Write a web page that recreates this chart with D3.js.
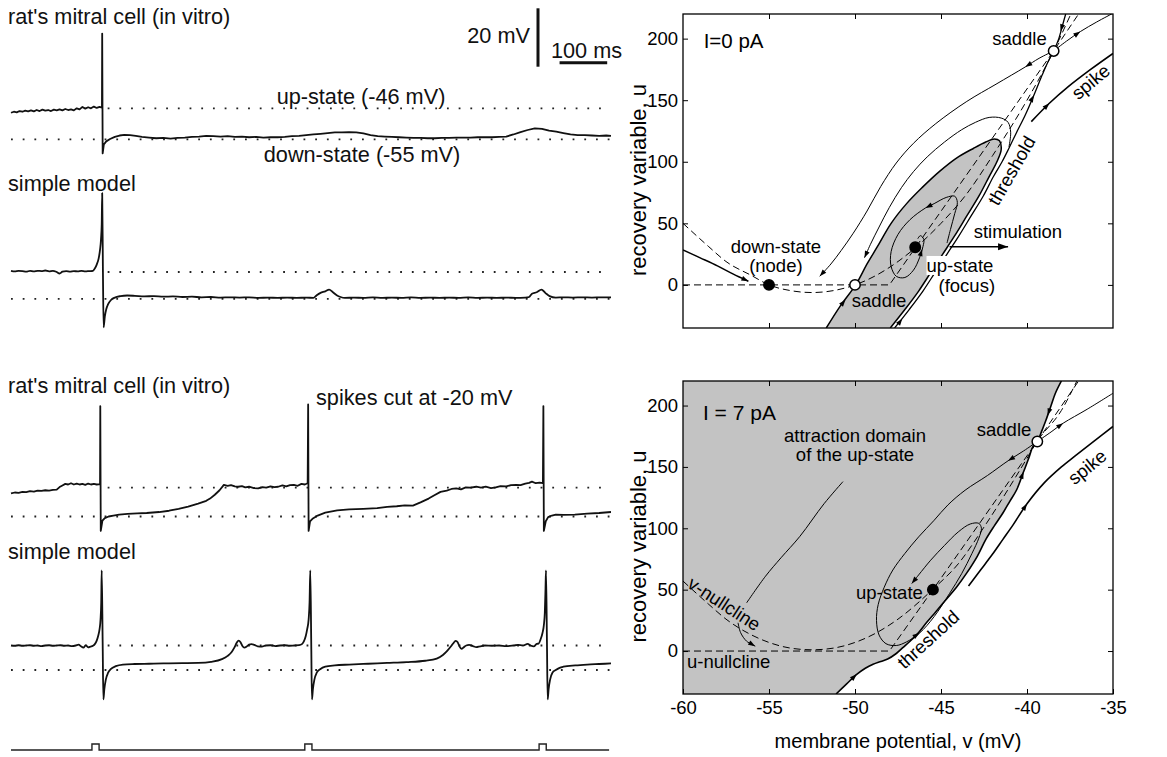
<!DOCTYPE html>
<html><head><meta charset="utf-8">
<script src="https://cdn.jsdelivr.net/npm/d3@7"></script>
<style>
body{margin:0;background:#fff;}
svg{display:block;font-family:"Liberation Sans",Arial,Helvetica,sans-serif;}
</style></head><body>
<svg id="fig" width="1167" height="757"></svg>
<script>
// ---------------- LEFT PANEL DATA (time in ms, membrane potential in mV) ----------------
const upState = -46, downState = -55;
const traceA_invitro = [[0,-47.3],[6,-47.0],[12,-47.2],[18,-46.8],[24,-47.0],[30,-46.7],[36,-46.9],[42,-46.6],[48,-46.9],[54,-46.5],[60,-46.8],[66,-46.4],[72,-46.7],[78,-46.5],[84,-46.8],[90,-46.4],[96,-46.6],[102,-46.3],[108,-46.6],[114,-46.2],[120,-46.5],[126,-46.3],[132,-46.6],[138,-46.0],[144,-46.3],[150,-45.6],[156,-46.1],[162,-45.7],[168,-46.0],[174,-45.5],[180,-45.9],[186,-45.6],[191,-45.8],[191.5,-24.3],[192.5,-59.1],
[195,-56.5],[200,-55.6],[208,-54.9],[218,-54.3],[228,-53.9],[238,-53.7],[250,-53.8],[262,-54.0],[275,-54.3],[290,-54.5],[305,-54.7],[320,-54.6],[335,-54.8],[350,-54.6],[365,-54.5],[380,-54.3],[395,-54.2],[410,-54.0],[425,-54.1],[440,-54.2],[455,-54.1],[470,-54.3],[485,-54.2],[500,-54.4],[515,-54.3],[530,-54.5],[545,-54.4],[560,-54.4],[575,-54.3],[590,-54.1],[605,-54.0],[620,-53.8],[635,-53.6],[650,-53.4],[665,-53.2],[680,-53.0],[695,-53.0],[710,-52.9],[725,-53.0],[740,-53.3],[755,-53.8],[770,-54.1],[785,-54.2],[800,-54.3],[815,-54.4],[830,-54.5],[845,-54.6],[860,-54.6],[875,-54.7],[890,-54.7],[905,-54.6],[920,-54.6],[935,-54.5],[950,-54.5],[965,-54.5],[980,-54.4],[995,-54.4],[1010,-54.4],[1025,-54.3],[1040,-54.2],[1055,-53.6],[1070,-52.9],[1085,-52.3],[1100,-51.8],[1115,-52.0],[1130,-52.5],[1145,-52.8],[1160,-53.2],[1175,-53.6],[1190,-53.8],[1205,-53.8],[1220,-53.9],[1235,-54.0],[1250,-53.9],[1260,-54.0]];

const traceB_model = [[0,-45.6],[8,-45.8],[16,-45.6],[24,-45.7],[32,-45.9],[40,-45.6],[48,-45.8],[56,-45.6],[64,-45.7],[72,-45.5],[80,-45.8],[88,-45.6],[96,-46.0],[102,-46.5],[108,-45.9],[116,-45.7],[124,-45.9],[132,-45.7],[140,-45.8],[148,-45.6],[156,-45.8],[164,-45.7],[172,-45.6],[176,-44.8],[180,-43.5],[184,-41.5],[187,-38.5],[189,-35],[190.5,-30],[191.5,-19.5],[193,-45],[194.5,-64.6],[197,-61],[200,-58.5],[204,-56.8],[210,-55.4],[218,-54.6],[230,-54.1],[244,-53.9],[260,-54.0],[280,-54.2],[300,-54.1],[320,-54.3],[340,-54.2],[360,-54.4],[380,-54.3],[400,-54.5],[420,-54.4],[440,-54.6],[460,-54.5],[480,-54.6],[500,-54.5],[520,-54.7],[540,-54.6],[560,-54.7],[580,-54.6],[600,-54.7],[620,-54.6],[635,-54.7],[642,-53.8],[650,-53.0],[660,-52.5],[668,-51.9],[676,-52.8],[684,-53.8],[692,-54.4],[701,-54.7],[720,-54.6],[740,-54.7],[760,-54.5],[780,-54.7],[800,-54.6],[820,-54.7],[840,-54.5],[860,-54.7],[880,-54.6],[900,-54.7],[920,-54.6],[940,-54.7],[960,-54.5],[980,-54.7],[1000,-54.6],[1020,-54.7],[1040,-54.6],[1060,-54.7],[1080,-54.6],[1088,-54.4],[1094,-53.3],[1104,-52.8],[1114,-51.9],[1122,-53.0],[1131,-54.1],[1144,-54.6],[1160,-54.5],[1180,-54.6],[1200,-54.5],[1220,-54.6],[1240,-54.5],[1260,-54.5]];

const traceC_invitro = [[0,-47.8],[8,-47.5],[16,-47.6],[24,-47.3],[32,-47.4],[40,-47.1],[48,-47.2],[56,-46.9],[64,-47.0],[72,-46.8],[80,-46.9],[88,-46.7],[96,-46.6],[102,-45.8],[108,-45.3],[114,-44.8],[120,-45.0],[126,-44.6],[132,-45.0],[138,-44.7],[144,-45.0],[150,-44.8],[156,-45.1],[162,-44.7],[168,-45.0],[174,-44.8],[180,-45.0],[187,-44.9],[187.5,-20.5],[188.5,-59.5],
[192,-56.3],[197,-55.5],[205,-55.0],[215,-54.7],[227,-54.4],[245,-54.2],[265,-54.0],[285,-53.9],[311,-53.6],[332,-53.2],[352,-52.6],[372,-51.9],[393,-51.0],[410,-50.1],[418,-49.4],[428,-48.2],[438,-46.8],[447,-45.1],[455,-45.4],[462,-45.2],[470,-45.6],[477,-45.7],[485,-45.5],[492,-45.9],[500,-45.7],[510,-46.1],[519,-46.2],[528,-45.8],[536,-46.0],[545,-45.6],[553,-45.8],[561,-45.7],[570,-45.3],[578,-45.6],[586,-45.2],[594,-45.1],[602,-45.4],[610,-44.8],[617,-45.0],[623,-44.6],[624,-20],[625,-59.5],
[628,-56.5],[634,-55.6],[644,-54.7],[660,-53.8],[685,-53.1],[710,-52.8],[740,-52.6],[769,-52.4],[790,-52.0],[810,-51.8],[827,-51.5],[844,-51.6],[860,-50.6],[877,-49.4],[890,-48.3],[902,-47.3],[915,-46.9],[925,-46.4],[935,-46.2],[945,-46.5],[955,-45.9],[965,-46.0],[977,-45.7],[987,-46.0],[997,-45.7],[1008,-46.1],[1018,-45.9],[1028,-45.5],[1040,-45.6],[1050,-45.2],[1061,-45.1],[1070,-45.2],[1080,-44.7],[1088,-44.5],[1094,-44.1],[1102,-44.6],[1110,-44.4],[1117,-44.6],[1118,-20.5],[1119,-59.5],
[1123,-56.5],[1128,-55.2],[1136,-54.7],[1144,-54.4],[1160,-54.5],[1184,-54.4],[1210,-54.1],[1235,-53.9],[1260,-53.6]];

const traceD_model = [[0,-46.0],[8,-46.1],[16,-45.9],[24,-46.1],[32,-46.0],[40,-45.9],[48,-46.1],[56,-46.0],[64,-46.2],[72,-46.0],[80,-45.9],[88,-46.1],[96,-46.0],[104,-45.9],[112,-46.1],[120,-46.0],[128,-46.2],[136,-46.0],[142,-45.7],[147,-46.3],[152,-46.8],[157,-45.9],[162,-46.7],[167,-46.4],[172,-46.1],[176,-45.5],[180,-44.2],[183,-42.5],[186,-40.0],[188,-36.5],[189.5,-30],[190.5,-18.4],[192.5,-45],[194,-65.8],[196,-62],[199,-58.6],[204,-56.0],[210,-54.6],[220,-53.6],[235,-53.0],[260,-52.8],[290,-52.7],[320,-52.6],[360,-52.5],[393,-52.4],[420,-52.0],[443,-51.0],[455,-49.8],[463,-48.5],[469,-46.8],[474,-45.0],[478,-44.2],[482,-44.8],[486,-46.2],[490,-46.8],[495,-46.4],[500,-45.7],[505,-45.5],[511,-45.8],[518,-46.3],[527,-46.4],[535,-46.0],[545,-45.9],[555,-46.2],[565,-46.0],[575,-45.9],[585,-46.1],[595,-46.0],[605,-45.9],[611,-45.5],[615,-44.5],[619,-42.5],[622,-40],[625,-36.5],[627,-30],[628.5,-18.4],[630.5,-45],[632,-65.8],[634,-62],[637,-58.6],[642,-56.0],[650,-54.6],[660,-53.8],[680,-53.3],[710,-53.0],[750,-52.7],[790,-52.4],[830,-52.1],[870,-51.6],[894,-50.8],[907,-49.5],[916,-48.0],[924,-46.3],[930,-44.9],[934,-44.3],[938,-44.8],[942,-46.4],[946,-47.2],[951,-46.6],[956,-46.0],[962,-45.8],[970,-46.2],[977,-46.6],[985,-46.3],[995,-46.0],[1010,-46.1],[1025,-46.0],[1040,-46.2],[1055,-46.0],[1065,-45.8],[1075,-46.0],[1085,-45.4],[1091,-46.0],[1098,-46.3],[1104,-45.4],[1108,-45.3],[1112,-43.8],[1116,-41.5],[1119,-38.5],[1121,-34],[1122.5,-25],[1123.5,-18.4],[1125.5,-45],[1127,-65.8],[1129,-62],[1132,-58.6],[1137,-56.0],[1144,-55.0],[1152,-54.2],[1160,-53.8],[1185,-53.3],[1210,-53.0],[1235,-52.8],[1260,-52.6]];

const stimulusPulses = [[170,185],[617,632],[1109,1124]];
const scaleBarMV = 20, scaleBarMS = 100;

// ---------------- PHASE PLANE DATA (v in mV, u) ----------------
const vTicks = [-60,-55,-50,-45,-40,-35];
const uTicks = [0,50,100,150,200];
// I = 0 pA
const p0_vNullcline = [[-60,50],[-58.5,31],[-57.5,19],[-56,7.5],[-55,0],[-53.8,-4.5],[-52.5,-6.2],[-51.2,-4.5],[-50,0],[-48.8,7.5],[-47.5,19],[-46.5,30],[-45,50],[-43.5,74],[-42,105],[-40,150],[-38.45,190],[-37.45,220]];
const p0_uNullcline = [[-60,0],[-48,0],[-46.5,30],[-38.45,190],[-37,220]];
const p0_domain = [[-51.67,-35],[-50.85,-17],[-49.96,0],[-49.3,17],[-48.7,31],[-47.9,50],[-47.0,66],[-46.1,79],[-45.1,92],[-44.1,103],[-43.1,111],[-42.4,116],[-41.9,118.5],[-41.6,117],[-41.5,110],[-41.75,100],[-42.2,88],[-42.8,72],[-43.5,56],[-44.2,40],[-44.9,25],[-45.6,10],[-46.3,-5],[-47.1,-20],[-47.95,-35]];
const p0_threshold = [[-47.7,-35],[-46.85,-20],[-46.05,-5],[-45.35,10],[-44.65,25],[-43.95,40],[-43.25,56],[-42.55,72],[-41.95,88],[-41.45,100],[-41.05,111],[-40.6,124],[-40.1,138],[-39.6,154],[-39.1,171],[-38.75,182],[-38.45,190],[-38.15,200],[-37.95,210],[-37.75,220]];
const p0_saddleLeft = [[-38.45,190],[-39.3,184],[-40.1,177],[-41.8,163],[-43.5,149],[-45.3,131],[-46.6,115],[-47.6,99],[-48.5,80],[-49.3,60],[-50.1,42],[-50.8,28],[-51.4,17],[-52.05,7]];
const p0_saddleRight = [[-38.45,190],[-37.7,198],[-36.9,205.7],[-35.95,213.5],[-35,220.6]];
const p0_loop = [[-41.05,112],[-40.95,124],[-41.1,132],[-41.5,135.5],[-42.2,136],[-43.0,132],[-43.8,126],[-44.8,116],[-45.8,104],[-46.6,92],[-47.3,79],[-48.0,63],[-48.6,47],[-49.1,33],[-49.45,22]];
const p0_spiral = [[-44.65,34],[-44.45,45],[-44.2,58],[-44.05,67],[-44.2,72],[-44.7,71],[-45.4,66],[-45.9,62.5],[-46.8,53],[-47.5,41],[-47.9,27],[-47.9,15],[-47.6,7],[-47.1,6],[-46.6,12],[-46.25,22],[-46.05,31],[-46.0,37],[-46.2,40],[-46.35,37.5]];
const p0_toNode = [[-60,28.4],[-59,22],[-58,15.5],[-57.1,9],[-56.2,3]];
const p0_spike = [[-39.75,132.6],[-38.7,147.5],[-37.6,161],[-36.3,175],[-35,188]];
const p0_stimulation = [[-44.5,31],[-41.1,31]];
const p0_stable = [[-55,0],[-46.5,30.6]];
const p0_saddles = [[-50,0],[-38.45,190]];
const p0_arrows = [[-39.3,184,-40.1,177],[-51.4,17,-52.05,7],[-37.7,198,-36.9,205.7],[-37.85,215,-38.05,206],[-39.9,146,-39.6,154],[-47.55,-33,-47.25,-27.5],[-50.85,-17,-50.55,-12],[-49.1,33,-49.45,22],[-45.4,66,-45.9,62.5],[-46.25,22,-46.1,29],[-57.1,9,-56.2,3],[-39.2,140.6,-38.7,147.5]];

// I = 7 pA
const p7_vNullcline = [[-60,57],[-58.5,38],[-57.5,26],[-56,13],[-55,7],[-53.8,2.5],[-52.5,1],[-51.2,2.5],[-50,7],[-48.8,14.5],[-47.5,26],[-45.5,50],[-44,71],[-42.5,101],[-40,157],[-39.4,171],[-38,196],[-37.1,220]];
const p7_uNullcline = [[-60,0],[-48,0],[-45.47,50],[-39.4,171],[-37,220]];
const p7_threshold = [[-51.1,-35],[-50.5,-27],[-49.9,-19],[-49.4,-14],[-48.95,-10.8],[-48.5,-8.5],[-48.1,-6.5],[-47.6,-2],[-47.2,3],[-46.8,8],[-46.3,15],[-45.85,23],[-45.3,32],[-44.7,42],[-44.1,52],[-43.5,63.7],[-42.9,77],[-42.4,90.8],[-41.9,102],[-41.4,112.5],[-41.0,122],[-40.6,131.4],[-40.2,146],[-39.9,157],[-39.65,166.7],[-39.4,170.7],[-39.15,179],[-38.9,188],[-38.6,200],[-38.35,210],[-38.0,220]];
const p7_saddleLeft = [[-39.4,170.7],[-40.2,163],[-41.1,155],[-42.3,143],[-43.6,131],[-44.6,119],[-45.4,106.5],[-46.3,93],[-47.1,79.5],[-47.8,66],[-48.3,52],[-48.65,38],[-48.75,25],[-48.6,13],[-48.2,6],[-47.6,4.5],[-47.0,7.5],[-46.25,14.6],[-45.4,28],[-44.5,47],[-43.8,63],[-43.2,79.5],[-42.8,92],[-42.65,100],[-42.8,104],[-43.3,103.5],[-44.0,97],[-44.8,86],[-45.6,74],[-46.3,62],[-46.7,55]];
const p7_saddleRight = [[-39.4,170.7],[-38.6,178.5],[-37.9,185.6],[-36.5,197],[-35,210]];
const p7_spike = [[-43.4,53],[-42.7,66],[-42.0,79],[-41.4,91],[-40.8,103],[-40.0,120],[-39.0,137],[-38.0,150],[-37.2,159],[-36.1,171],[-35,183]];
const p7_domainPointer = [[-50.7,138],[-51.8,120],[-53.2,93.5],[-54.3,76],[-55.2,61],[-56.3,39.3]];
const p7_nullPointer = [[-56.8,23],[-56.65,15],[-56.3,8],[-55.8,4]];
const p7_stable = [[-45.47,50]];
const p7_saddles = [[-39.4,170.7]];
const p7_arrows = [[-50.5,-27,-49.9,-19],[-40.6,131.4,-40.2,146],[-38.55,202,-38.8,192],[-40.2,163,-41.1,155],[-47.0,7.5,-46.25,14.6],[-46.3,62,-46.7,55],[-38.6,178.5,-37.9,185.6],[-40.8,103,-40.0,120],[-56.3,8,-55.8,4]];

// ---------------- DRAWING ----------------
const svg = d3.select("#fig");
const ink = "#111";

// ---- left panel ----
const tScale = d3.scaleLinear().domain([0,1260]).range([11,611]);
const traces = [
  {data: traceA_invitro, r:[139.3,108.3], smooth:false},
  {data: traceB_model,   r:[298.8,272.0], smooth:true},
  {data: traceC_invitro, r:[516.5,487.7], smooth:false},
  {data: traceD_model,   r:[670.0,645.5], smooth:true}
];
const left = svg.append("g");
traces.forEach(tr => {
  const yS = d3.scaleLinear().domain([downState, upState]).range(tr.r);
  left.append("line").attr("x1",tScale(0)).attr("x2",tScale(1260))
    .attr("y1",yS(downState)).attr("y2",yS(downState))
    .attr("stroke","#222").attr("stroke-width",1.8).attr("stroke-dasharray","1.8,9.9");
  left.append("line").attr("x1",tScale(203)).attr("x2",tScale(1252))
    .attr("y1",yS(upState)).attr("y2",yS(upState))
    .attr("stroke","#222").attr("stroke-width",1.8).attr("stroke-dasharray","1.8,9.9");
  const lg = d3.line().x(d=>tScale(d[0])).y(d=>yS(d[1]))
     .curve(tr.smooth ? d3.curveMonotoneX : d3.curveLinear);
  left.append("path").attr("d", lg(tr.data)).attr("fill","none")
    .attr("stroke",ink).attr("stroke-width",1.8).attr("stroke-linejoin","round");
});
const stimY = d3.scaleLinear().domain([0,1]).range([750,744]);
const stimData = [[0,0]];
stimulusPulses.forEach(p => { stimData.push([p[0],0],[p[0],1],[p[1],1],[p[1],0]); });
stimData.push([1256,0]);
left.append("path").attr("d", d3.line().x(d=>tScale(d[0])).y(d=>stimY(d[1]))(stimData))
  .attr("fill","none").attr("stroke","#222").attr("stroke-width",1.4);
const barY = d3.scaleLinear().domain([0, scaleBarMV]).range([66.7, 8.3]);
left.append("line").attr("x1",538).attr("x2",538).attr("y1",barY(0)).attr("y2",barY(scaleBarMV))
  .attr("stroke",ink).attr("stroke-width",3);
left.append("line").attr("x1",tScale(1152)).attr("x2",tScale(1152+scaleBarMS)).attr("y1",62.7).attr("y2",62.7)
  .attr("stroke",ink).attr("stroke-width",3);
const lt = (x,y,s,anchor) => left.append("text").attr("x",x).attr("y",y).attr("text-anchor",anchor||"start")
   .attr("font-size",21.7).attr("fill",ink).text(s);
lt(8,24,"rat's mitral cell (in vitro)");
lt(530,43,"20 mV","end");
lt(551,58,"100 ms");
lt(361,104,"up-state (-46 mV)","middle");
lt(362,162,"down-state (-55 mV)","middle");
lt(8,191,"simple model");
lt(8,393,"rat's mitral cell (in vitro)");
lt(316,405,"spikes cut at -20 mV");
lt(8,559,"simple model");

// ---- phase planes ----
const xPP = d3.scaleLinear().domain([-60,-35]).range([683,1113]);
const yTop = d3.scaleLinear().domain([-35,220]).range([328,14]);
const yBot = d3.scaleLinear().domain([-35,220]).range([694,381]);
const defs = svg.append("defs");
const cr = d3.curveCatmullRom.alpha(0.5);
function lineFor(y, curve){ return d3.line().x(d=>xPP(d[0])).y(d=>y(d[1])).curve(curve||cr); }
function curveP(g,data,y,w,dash,curve){
  g.append("path").attr("d", lineFor(y,curve)(data)).attr("fill","none")
   .attr("stroke","#000").attr("stroke-width",w).attr("stroke-dasharray",dash||null)
   .attr("stroke-linejoin","round");
}
function arrowP(g,a,y,len,half){
  len = len||7; half = half||2.5;
  const x1=xPP(a[0]), y1=y(a[1]), x2=xPP(a[2]), y2=y(a[3]);
  const ang=Math.atan2(y2-y1,x2-x1), c=Math.cos(ang), s=Math.sin(ang);
  const bx=x2-len*c, by=y2-len*s;
  g.append("path").attr("d",`M${x2},${y2}L${bx-half*s},${by+half*c}L${bx+half*s},${by-half*c}Z`).attr("fill","#000");
}
function pts(g,data,y,open){
  g.selectAll(null).data(data).enter().append("circle")
   .attr("cx",d=>xPP(d[0])).attr("cy",d=>y(d[1])).attr("r",5.2)
   .attr("fill",open?"#fff":"#000").attr("stroke","#000").attr("stroke-width",1.5);
}
function ptext(g,v,u,y,s,anchor,rot,size){
  const t = g.append("text").attr("font-size",size||18.5).attr("fill","#000").attr("text-anchor",anchor||"start").text(s);
  if(rot!==undefined && rot!==null){ t.attr("transform",`translate(${xPP(v)},${y(u)}) rotate(${rot})`).attr("dy","0.35em"); }
  else t.attr("x",xPP(v)).attr("y",y(u));
  return t;
}
function axes(g,y,showX){
  const top = y.range()[1], bot = y.range()[0];
  const fmt = d=>String(d);
  const style = sel => { sel.select(".domain").remove(); sel.attr("font-family",null).attr("font-size",18.5);
     sel.selectAll("line").attr("stroke","#000"); sel.selectAll("text").attr("fill","#000"); };
  g.append("g").attr("transform",`translate(${xPP(-60)},0)`).call(d3.axisLeft(y).tickValues(uTicks).tickSize(-5).tickPadding(5).tickFormat(fmt)).call(style);
  g.append("g").attr("transform",`translate(${xPP(-35)},0)`).call(d3.axisRight(y).tickValues(uTicks).tickSize(-5).tickFormat("")).call(style);
  g.append("g").attr("transform",`translate(0,${top})`).call(d3.axisTop(xPP).tickValues(vTicks.slice(1,-1)).tickSize(-5).tickFormat("")).call(style);
  g.append("g").attr("transform",`translate(0,${bot})`).call(d3.axisBottom(xPP).tickValues(showX?vTicks:vTicks.slice(1,-1)).tickSize(-5).tickPadding(7).tickFormat(showX?fmt:"")).call(style);
  g.append("rect").attr("x",xPP(-60)).attr("y",top).attr("width",xPP(-35)-xPP(-60)).attr("height",bot-top)
   .attr("fill","none").attr("stroke","#000").attr("stroke-width",1.3);
  g.append("text").attr("transform",`translate(646,${(top+bot)/2+9}) rotate(-90)`).attr("text-anchor","middle")
   .attr("font-size",22).text("recovery variable, u");
}
function clipFor(id,y){
  defs.append("clipPath").attr("id",id).append("rect").attr("x",xPP(-60)).attr("y",y.range()[1])
    .attr("width",xPP(-35)-xPP(-60)).attr("height",y.range()[0]-y.range()[1]);
}

// ---- top: I = 0 pA ----
clipFor("c0",yTop);
const g0 = svg.append("g");
const b0 = g0.append("g").attr("clip-path","url(#c0)");
b0.append("path").attr("d", lineFor(yTop)(p0_domain)+"Z").attr("fill","#c3c3c3").attr("stroke","none");
b0.append("path").attr("d", lineFor(yTop)(p0_domain)).attr("fill","none").attr("stroke","#000").attr("stroke-width",1.5);
curveP(b0,p0_vNullcline,yTop,1,"7,4",d3.curveMonotoneX);
curveP(b0,p0_uNullcline,yTop,1,"7,4",d3.curveLinear);
curveP(b0,p0_threshold,yTop,1.3);
curveP(b0,p0_saddleLeft,yTop,1);
curveP(b0,p0_saddleRight,yTop,1);
curveP(b0,p0_loop,yTop,1);
curveP(b0,p0_spiral,yTop,1);
curveP(b0,p0_toNode,yTop,1.5);
curveP(b0,p0_spike,yTop,1.6);
curveP(b0,p0_stimulation,yTop,1.5,null,d3.curveLinear);
arrowP(b0,p0_stimulation[0].concat(p0_stimulation[1]),yTop,10,3.5);
p0_arrows.forEach(a=>arrowP(b0,a,yTop));
pts(b0,p0_stable,yTop,false);
pts(b0,p0_saddles,yTop,true);
axes(g0,yTop,false);
ptext(g0,-58.8,192.4,yTop,"I=0 pA","start",null,20.5);
ptext(g0,-38.85,195,yTop,"saddle","end");
ptext(g0,-54.6,26,yTop,"down-state","middle");
ptext(g0,-54.6,10.8,yTop,"(node)","middle");
ptext(g0,-48.6,-17.6,yTop,"saddle","middle");
const us = ptext(g0,-43.9,10.5,yTop,"up-state","middle");
const bb = us.node().getBBox();
g0.insert("rect", function(){ return us.node(); }).attr("x",bb.x).attr("y",bb.y+1).attr("width",bb.width).attr("height",bb.height-2).attr("fill","#fff");
ptext(g0,-43.5,-6,yTop,"(focus)","middle");
ptext(g0,-43.1,38,yTop,"stimulation");
ptext(g0,-40.9,92.8,yTop,"threshold","middle",-60);
ptext(g0,-36.3,165,yTop,"spike","middle",-40);

// ---- bottom: I = 7 pA ----
clipFor("c7",yBot);
const g7 = svg.append("g");
const b7 = g7.append("g").attr("clip-path","url(#c7)");
const thrRev = p7_threshold.slice().reverse();
const thrPath = lineFor(yBot)(thrRev);
b7.append("path").attr("d", `M${xPP(-60)},${yBot(-35)}L${xPP(-60)},${yBot(220)}L` + thrPath.slice(1) + "Z")
  .attr("fill","#c3c3c3").attr("stroke","none");
curveP(b7,p7_vNullcline,yBot,1,"7,4",d3.curveMonotoneX);
curveP(b7,p7_uNullcline,yBot,1,"7,4",d3.curveLinear);
curveP(b7,p7_threshold,yBot,1.6);
curveP(b7,p7_saddleLeft,yBot,1);
curveP(b7,p7_saddleRight,yBot,1);
curveP(b7,p7_spike,yBot,1.6);
curveP(b7,p7_domainPointer,yBot,1);
curveP(b7,p7_nullPointer,yBot,1);
p7_arrows.forEach(a=>arrowP(b7,a,yBot));
pts(b7,p7_stable,yBot,false);
pts(b7,p7_saddles,yBot,true);
axes(g7,yBot,true);
ptext(g7,-58.84,188.4,yBot,"I = 7 pA","start",null,21);
ptext(g7,-50.0,170,yBot,"attraction domain","middle");
ptext(g7,-50.0,154.5,yBot,"of the up-state","middle");
ptext(g7,-39.75,175.4,yBot,"saddle","end");
ptext(g7,-48.0,42,yBot,"up-state","middle");
ptext(g7,-57.6,38.5,yBot,"v-nullcline","middle",33);
ptext(g7,-59.77,-13.5,yBot,"u-nullcline");
ptext(g7,-45.75,9.5,yBot,"threshold","middle",-42.5);
ptext(g7,-36.5,150,yBot,"spike","middle",-39);
svg.append("text").attr("x",(xPP(-60)+xPP(-35))/2).attr("y",748).attr("text-anchor","middle")
  .attr("font-size",20).text("membrane potential, v (mV)");
</script>
</body></html>
